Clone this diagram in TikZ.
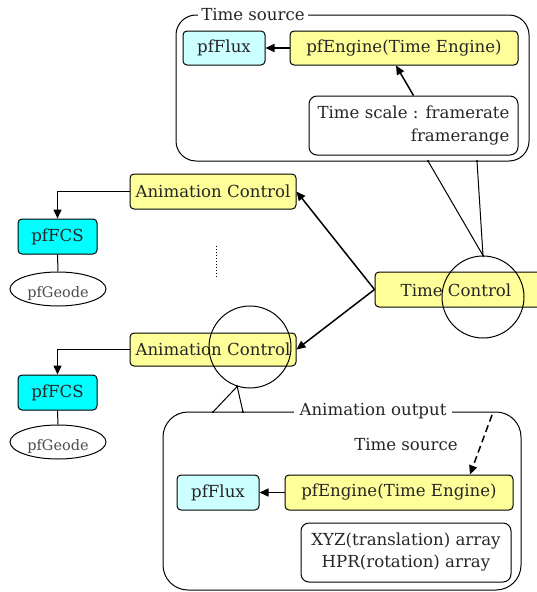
\documentclass[tikz,border=0pt]{standalone}
\usepackage{fontspec}
\setmainfont{DejaVu Serif}
\usetikzlibrary{arrows.meta,shapes.geometric}
\definecolor{ylw}{HTML}{FFFF99}
\definecolor{lcyan}{HTML}{CCFFFF}
\definecolor{cyn}{HTML}{00FFFF}
\begin{document}
\begin{tikzpicture}[x=1pt,y=-1pt,
  txt/.style={font=\fontsize{16.6}{20}\selectfont, text=black!85, inner sep=0pt},
  box/.style={txt, draw, rounded corners=4pt, line width=1pt},
  ybox/.style={box, fill=ylw},
  lcbox/.style={box, fill=lcyan},
  cbox/.style={box, fill=cyn},
  wbox/.style={box, rounded corners=8pt, font=\fontsize{16.6}{23}\selectfont},
  grp/.style={draw, line width=1pt, inner sep=0pt},
  arr/.style={line width=1.5pt, -{Triangle[length=9pt,width=8pt]}},
  thin/.style={line width=1pt},
  ring/.style={draw, circle, line width=1pt, minimum size=82pt, inner sep=0pt},
  geo/.style={draw, ellipse, line width=1pt, minimum width=96pt, minimum height=34pt, inner sep=0pt},
  geotxt/.style={txt, font=\fontsize{14.5}{17}\selectfont, text=black!70},
  dot/.style={circle, fill=black, inner sep=0pt, minimum size=2.4pt},
]
\useasboundingbox (0,0) rectangle (537,592);
\fill[white] (0,0) rectangle (537,592);

% top group
\node[grp, rounded corners=20pt, minimum width=353pt, minimum height=146pt] (tsg) at (352.5,88) {};
\node[txt, fill=white, inner xsep=3pt] (tsl) at (253,15) {Time source};
\node[lcbox, minimum width=82pt, minimum height=34pt] (fluxT) at (224,48) {pfFlux};
\node[ybox, minimum width=228pt, minimum height=34pt] (engT) at (404,48) {pfEngine(Time Engine)};
\node[wbox, minimum width=209pt, minimum height=59pt, align=right] (tscale) at (413.5,125.5) {Time scale : framerate\\framerange};
\draw[arr] (engT.west) -- (fluxT.east);
\draw[arr] (tscale.north) -- ([xshift=-8pt]engT.south);

% animation controls
\node[ybox, minimum width=166pt, minimum height=35pt] (act) at (213,191.5) {Animation Control};
\node[ybox, minimum width=166pt, minimum height=33pt] (acb) at (213,349.5) {Animation Control};
\node[ybox, minimum width=170pt, minimum height=35pt] (tc) at (460,289.5) {};
\node[txt] (tct) at (456,290) {Time Control};
\draw[arr] (tc.west) -- (act.east);
\draw[arr] (tc.west) -- (acb.east);
\draw[thin, dotted] (216,246) -- (216,277);

% left chain
\node[cbox, minimum width=79pt, minimum height=35pt] (fcs1) at (57.5,236.5) {pfFCS};
\node[geo] (geo1) at (58,289) {};
\node[geotxt] (geo1t) at (58,293) {pfGeode};
\node[cbox, minimum width=79pt, minimum height=35pt] (fcs2) at (57.5,392.5) {pfFCS};
\node[geo] (geo2) at (58,442) {};
\node[geotxt] (geo2t) at (58,446) {pfGeode};
\draw[arr] (act.west) -| (fcs1.north);
\draw[arr] (acb.west) -| (fcs2.north);
\draw[thin] (fcs1.south) -- (geo1.north);
\draw[thin] (fcs2.south) -- (geo2.north);

% bottom group
\node[grp, rounded corners=25pt, minimum width=358pt, minimum height=178pt] (aog) at (342,501) {};
\node[txt, fill=white, inner xsep=6pt] (aol) at (373,411) {Animation output};
\node[txt] (tsb) at (406,445) {Time source};
\node[lcbox, minimum width=82pt, minimum height=35pt] (fluxB) at (218,492.5) {pfFlux};
\node[ybox, minimum width=228pt, minimum height=35pt] (engB) at (399,492.5) {pfEngine(Time Engine)};
\node[wbox, minimum width=210pt, minimum height=59pt, align=center, font=\fontsize{16.6}{22}\selectfont] (xyz) at (406,552.5) {XYZ(translation) array\\HPR(rotation) array};
\draw[arr] (engB.west) -- (fluxB.east);
\coordinate (dsrc) at (492,415);
\draw[line width=1.5pt, dash pattern=on 7pt off 4pt, -{Triangle[length=9pt,width=8pt]}] (dsrc) -- ([xshift=71pt]engB.north);

% callout circles
\node[ring] (tcc) at (483,297) {};
\node[ring] (acc) at (250,347) {};
\coordinate (t1) at (428,161);
\coordinate (t2) at (477,161);
\coordinate (b1) at (213,412);
\coordinate (b2) at (243,412);
\draw[thin] (t1) -- (tcc.north) -- (t2);
\draw[thin] (b1) -- (acc.252) -- (b2);
\foreach \p in {t1,t2,b1,b2} \node[dot] at (\p) {};
\node[dot] at (tcc.north) {};
\node[dot] at (acc.252) {};
\end{tikzpicture}
\end{document}
